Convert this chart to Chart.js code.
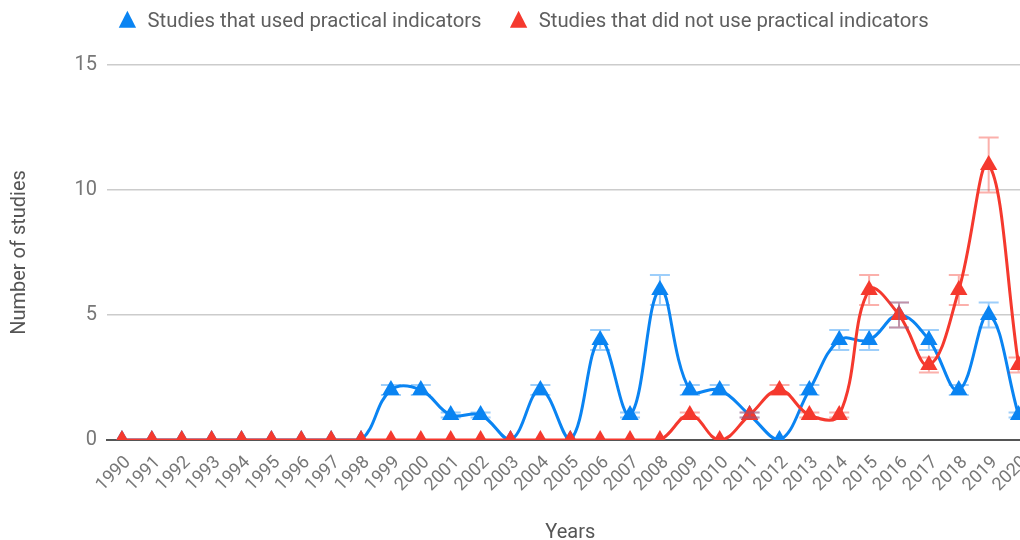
<!DOCTYPE html>
<html>
<head>
<meta charset="utf-8">
<script src="https://cdn.jsdelivr.net/npm/chart.js@4.4.1/dist/chart.umd.min.js"></script>
<style>
  html, body { margin: 0; padding: 0; overflow: hidden; background: #fff; }
  #wrap { width: 1046px; height: 540px; }
</style>
</head>
<body>
<div id="wrap"><canvas id="chart"></canvas></div>
<script>
const years = ["1990","1991","1992","1993","1994","1995","1996","1997","1998","1999",
  "2000","2001","2002","2003","2004","2005","2006","2007","2008","2009",
  "2010","2011","2012","2013","2014","2015","2016","2017","2018","2019","2020"];

const usedIndicators = [0,0,0,0,0,0,0,0,0,2, 2,1,1,0,2,0,4,1,6,2, 2,1,0,2,4,4,5,4,2,5,1];
const notUsedIndicators = [0,0,0,0,0,0,0,0,0,0, 0,0,0,0,0,0,0,0,0,1, 0,1,2,1,1,6,5,3,6,11,3];

const yTicks = [0, 5, 10, 15];
const errorPct = 0.1; // interval shown around every point

const BLUE = "#0a84f2";
const RED = "#f5392e";

// error bars, drawn with the chart's own scales
const errorBars = {
  id: "errorBars",
  afterDatasetsDraw(chart) {
    const ctx = chart.ctx;
    const y = chart.scales.y;
    chart.data.datasets.forEach((ds, i) => {
      const meta = chart.getDatasetMeta(i);
      ctx.save();
      ctx.strokeStyle = ds.barColor;
      ctx.lineWidth = 2;
      meta.data.forEach((pt, j) => {
        const v = ds.data[j];
        if (!v) return;
        const top = y.getPixelForValue(v * (1 + errorPct));
        const bot = y.getPixelForValue(v * (1 - errorPct));
        ctx.beginPath();
        ctx.moveTo(pt.x, top); ctx.lineTo(pt.x, bot);
        ctx.moveTo(pt.x - 10, top); ctx.lineTo(pt.x + 10, top);
        ctx.moveTo(pt.x - 10, bot); ctx.lineTo(pt.x + 10, bot);
        ctx.stroke();
      });
      ctx.restore();
    });
  }
};

// fixed legend block height so the plot starts lower
const legendGap = {
  id: "legendGap",
  beforeInit(chart) {
    const fit = chart.legend.fit;
    chart.legend.fit = function () {
      fit.bind(chart.legend)();
      this.height = 80;
    };
  }
};

new Chart(document.getElementById("chart"), {
  type: "line",
  data: {
    labels: years,
    datasets: [
      {
        label: "Studies that used practical indicators",
        data: usedIndicators,
        borderColor: BLUE,
        backgroundColor: BLUE,
        barColor: "rgba(10,132,242,0.4)",
        clip: 0,
        order: 2
      },
      {
        label: "Studies that did not use practical indicators",
        data: notUsedIndicators,
        borderColor: RED,
        backgroundColor: RED,
        barColor: "rgba(245,57,46,0.4)",
        clip: 0,
        order: 1
      }
    ]
  },
  options: {
    responsive: true,
    maintainAspectRatio: false,
    animation: false,
    layout: { padding: { top: -15, right: 0, left: 0, bottom: -5 } },
    elements: {
      line: { borderWidth: 3, tension: 0.4 },
      point: { pointStyle: "triangle", radius: 10, borderWidth: 0, hoverRadius: 10 }
    },
    plugins: {
      tooltip: { enabled: false },
      legend: {
        position: "top",
        labels: {
          usePointStyle: true,
          pointStyle: "triangle",
          boxHeight: 16,
          pointStyleWidth: 20,
          padding: 27,
          color: "#5f5f5f",
          font: { family: "Roboto", size: 20.3 },
          sort: (a, b) => a.datasetIndex - b.datasetIndex
        }
      }
    },
    scales: {
      x: {
        offset: true,
        grid: { display: false, drawTicks: false },
        border: { color: "#555", width: 2 },
        ticks: {
          minRotation: 45, maxRotation: 45, autoSkip: false,
          color: "#777", padding: 12, labelOffset: 6,
          font: { family: "Roboto", size: 18 }
        },
        title: {
          display: true, text: "Years", color: "#555",
          font: { family: "Roboto", size: 20 }, padding: { top: 4, bottom: 0 }
        },
        afterFit(scale) { scale.height = 105; }
      },
      y: {
        min: 0, max: 15,
        afterBuildTicks(scale) { scale.ticks = yTicks.map(v => ({ value: v })); },
        grid: { color: "#cccccc", lineWidth: 1.5, drawTicks: false },
        border: { display: false },
        ticks: {
          color: "#777", padding: 10,
          font: { family: "Roboto", size: 20 }
        },
        title: {
          display: true, text: "Number of studies", color: "#555",
          font: { family: "Roboto", size: 20 }, padding: { top: 8, bottom: 0 }
        },
        afterFit(scale) { scale.width = 107; }
      }
    }
  },
  plugins: [errorBars, legendGap]
});
</script>
</body>
</html>
